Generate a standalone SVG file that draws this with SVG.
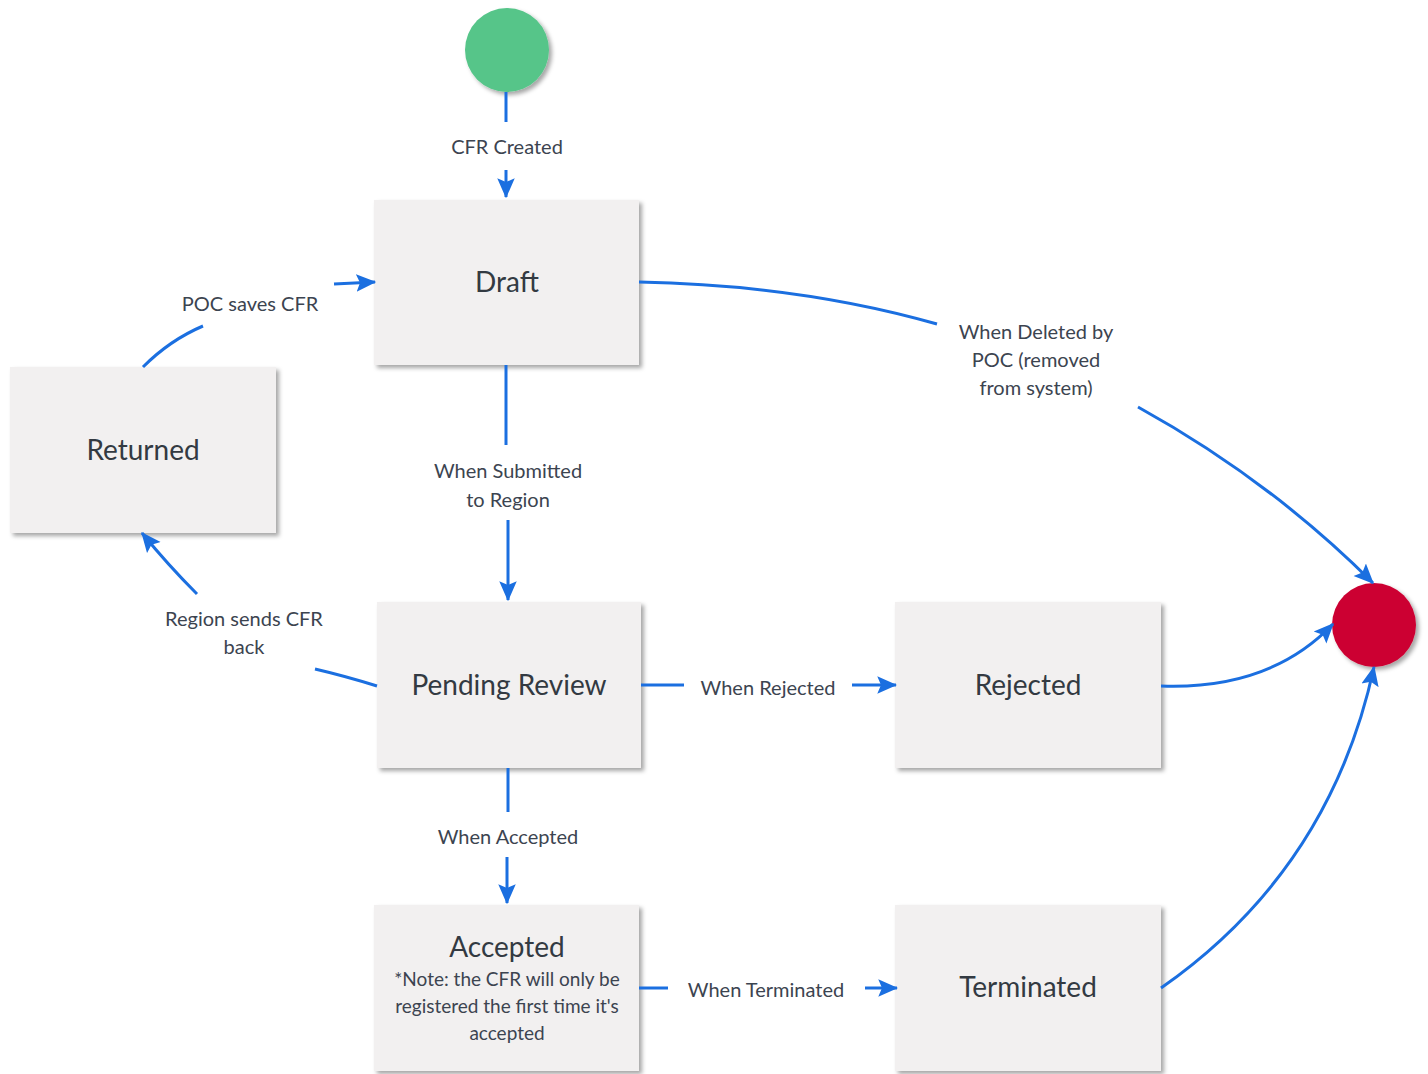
<svg xmlns="http://www.w3.org/2000/svg" width="1428" height="1074" viewBox="0 0 1428 1074">
<defs>
<filter id="sh" x="-10%" y="-10%" width="125%" height="125%">
<feDropShadow dx="3" dy="3" stdDeviation="2" flood-color="#000" flood-opacity="0.35"/>
</filter>
<marker id="ah" markerUnits="userSpaceOnUse" viewBox="0 0 16 16" refX="15" refY="8" markerWidth="20" markerHeight="20" orient="auto">
<path d="M0,1 L16,8 L0,15 L3,8 z" fill="#1b6fe0"/>
</marker>
<style>
.node{fill:#f2f0f0;filter:url(#sh)}
.t{font-family:Lato,"Open Sans","Liberation Sans",sans-serif;fill:#333a42;text-anchor:middle}
.big{font-size:28px}
.lbl{font-size:20px;fill:#3c4450}
.note{font-size:19px}
.c{fill:none;stroke:#1b6fe0;stroke-width:3}
.a{marker-end:url(#ah)}
</style>
</defs>
<rect width="1428" height="1074" fill="#fff"/>
<g id="start"><circle cx="507" cy="50" r="42" fill="#56c589" filter="url(#sh)"/></g>
<g id="end"><circle cx="1374" cy="625" r="42" fill="#cc0033" filter="url(#sh)"/></g>
<g id="draft"><rect class="node" x="374" y="200" width="265" height="165"/><text class="t big" x="507" y="292">Draft</text></g>
<g id="returned"><rect class="node" x="10" y="367" width="266" height="166"/><text class="t big" x="143" y="460">Returned</text></g>
<g id="pending"><rect class="node" x="377" y="602" width="264" height="166"/><text class="t big" x="509" y="695">Pending Review</text></g>
<g id="rejected"><rect class="node" x="895" y="602" width="266" height="166"/><text class="t big" x="1028" y="695">Rejected</text></g>
<g id="accepted"><rect class="node" x="374" y="905" width="265" height="166"/><text class="t big" x="507" y="957">Accepted</text><text class="t lbl note" x="507" y="986">*Note: the CFR will only be</text><text class="t lbl note" x="507" y="1013">registered the first time it's</text><text class="t lbl note" x="507" y="1040">accepted</text></g>
<g id="terminated"><rect class="node" x="895" y="905" width="266" height="166"/><text class="t big" x="1028" y="997">Terminated</text></g>
<g id="connectors">
<path class="c" d="M506,92 V122"/>
<path class="c a" d="M506,170 V197"/>
<text class="t lbl" x="507" y="154">CFR Created</text>
<path class="c" d="M506,365 V445"/>
<path class="c a" d="M508,520 V600"/>
<text class="t lbl" x="508" y="478">When Submitted</text>
<text class="t lbl" x="508" y="507">to Region</text>
<path class="c" d="M508,768 V812"/>
<path class="c a" d="M507,857 V903"/>
<text class="t lbl" x="508" y="844">When Accepted</text>
<path class="c" d="M641,685 H684"/>
<path class="c a" d="M852,685 H896"/>
<text class="t lbl" x="768" y="695">When Rejected</text>
<path class="c" d="M639,988 H668"/>
<path class="c a" d="M865,988 H897"/>
<text class="t lbl" x="766" y="997">When Terminated</text>
<path class="c" d="M377,686 Q345,676 315,669"/>
<path class="c a" d="M197,594 Q168,565 142,533"/>
<text class="t lbl" x="244" y="626">Region sends CFR</text>
<text class="t lbl" x="244" y="654">back</text>
<path class="c" d="M143,367 Q170,340 203,326"/>
<path class="c a" d="M334,284 L375,282"/>
<text class="t lbl" x="250" y="311">POC saves CFR</text>
<path class="c" d="M639,282 Q800,285 937,324"/>
<path class="c a" d="M1138,407 Q1270,480 1373,583"/>
<text class="t lbl" x="1036" y="339">When Deleted by</text>
<text class="t lbl" x="1036" y="367">POC (removed</text>
<text class="t lbl" x="1036" y="395">from system)</text>
<path class="c a" d="M1161,686 Q1270,690 1333,624"/>
<path class="c a" d="M1161,988 Q1330,870 1374,667"/>
</g>
</svg>
